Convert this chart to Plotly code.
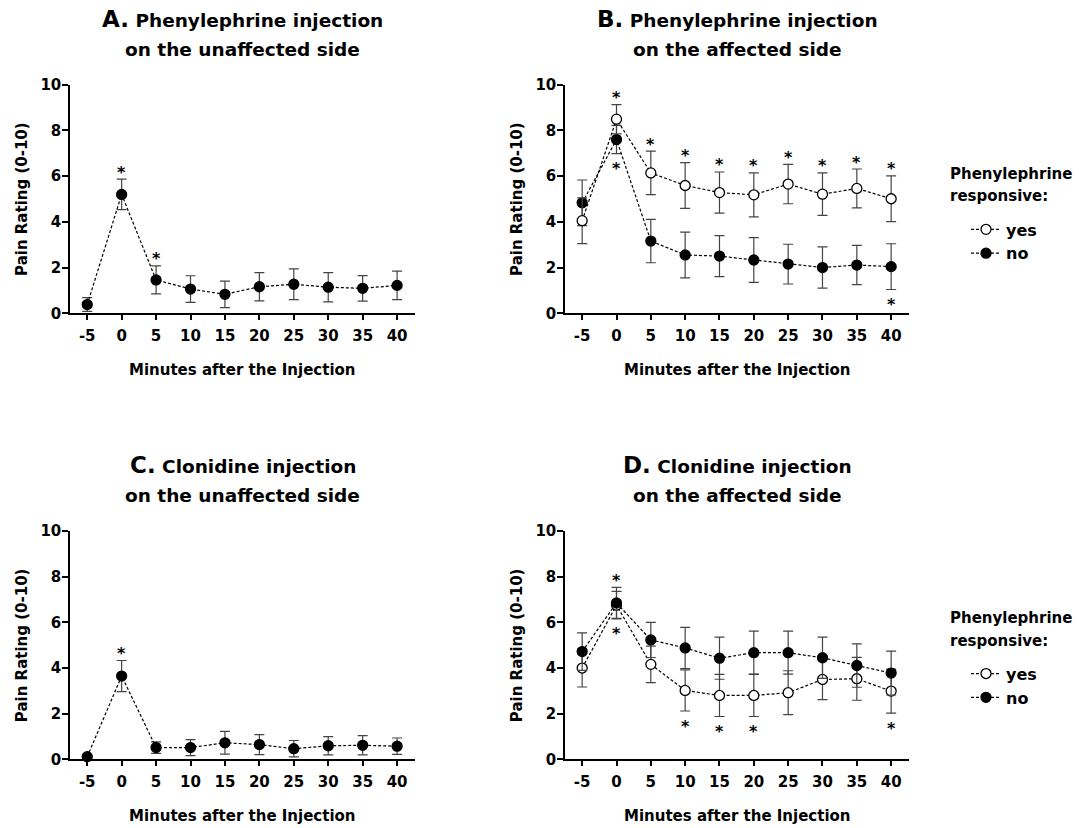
import plotly.graph_objects as go

# ---------------- data ----------------
minutes = [-5, 0, 5, 10, 15, 20, 25, 30, 35, 40]
minute_labels = ["-5", "0", "5", "10", "15", "20", "25", "30", "35", "40"]
rating_ticks = [0, 2, 4, 6, 8, 10]

# A. Phenylephrine, unaffected side
a_mean = [0.38, 5.20, 1.46, 1.06, 0.83, 1.16, 1.27, 1.14, 1.09, 1.22]
a_err = [0.30, 0.67, 0.61, 0.58, 0.58, 0.62, 0.67, 0.64, 0.56, 0.62]
a_sig_up = [0, 5]

# B. Phenylephrine, affected side
b_yes_mean = [4.05, 8.49, 6.14, 5.59, 5.28, 5.18, 5.65, 5.21, 5.46, 5.01]
b_yes_err = [1.00, 0.64, 0.95, 1.00, 0.90, 0.96, 0.86, 0.93, 0.85, 1.00]
b_no_mean = [4.83, 7.60, 3.16, 2.55, 2.50, 2.33, 2.15, 2.00, 2.11, 2.04]
b_no_err = [1.00, 0.62, 0.95, 1.00, 0.90, 0.98, 0.87, 0.90, 0.86, 1.00]
b_yes_sig_up = [0, 5, 10, 15, 20, 25, 30, 35, 40]
b_no_sig_down = [0, 40]

# C. Clonidine, unaffected side
c_mean = [0.12, 3.65, 0.52, 0.52, 0.73, 0.65, 0.47, 0.60, 0.62, 0.58]
c_err = [0.06, 0.68, 0.25, 0.35, 0.50, 0.44, 0.36, 0.40, 0.42, 0.36]
c_sig_up = [0]

# D. Clonidine, affected side
d_no_mean = [4.72, 6.85, 5.23, 4.88, 4.43, 4.67, 4.67, 4.45, 4.11, 3.78]
d_no_err = [0.82, 0.68, 0.77, 0.90, 0.92, 0.94, 0.94, 0.90, 0.95, 0.96]
d_yes_mean = [4.00, 6.75, 4.16, 3.02, 2.80, 2.80, 2.92, 3.50, 3.53, 2.99]
d_yes_err = [0.83, 0.60, 0.80, 0.90, 0.92, 0.92, 0.96, 0.88, 0.94, 0.96]
d_no_sig_up = [0]
d_yes_sig_down = [0, 10, 15, 20, 40]

titles = [
    ("A.", "Phenylephrine injection", "on the unaffected side"),
    ("B.", "Phenylephrine injection", "on the affected side"),
    ("C.", "Clonidine injection", "on the unaffected side"),
    ("D.", "Clonidine injection", "on the affected side"),
]
x_title = "Minutes after the Injection"
y_title = "Pain Rating (0-10)"
legend_title_lines = ["Phenylephrine", "responsive:"]
legend_names = ["yes", "no"]

# ---------------- layout helpers ----------------
W, H = 1079, 828
FONT = "DejaVu Sans"


def px(x):
    return x / W


def vy(y):
    # compensate the vertical offset/scale observed in the page capture
    return (y - 7.2) / 0.98


def py(y):
    return 1 - vy(y) / H


# plot-area pixel boxes (target picture pixels): (left, right, top, bottom)
boxes = {
    1: (70, 415, 83, 312),
    2: (565, 909, 83, 312),
    3: (70, 415, 530, 759),
    4: (565, 909, 530, 759),
}

fig = go.Figure()

line_style = dict(color="black", width=1.2, dash="3px,2px")
err_style = dict(type="data", visible=True, color="#444", thickness=1.2, width=5)


def add_series(k, mean, err, filled, name=None, legend=None, rank=None):
    xa = "x" if k == 1 else f"x{k}"
    ya = "y" if k == 1 else f"y{k}"
    marker = dict(
        size=10,
        color="black" if filled else "white",
        line=dict(color="black", width=1.3),
        symbol="circle",
    )
    fig.add_trace(
        go.Scatter(
            x=minutes,
            y=mean,
            mode="lines+markers",
            line=line_style,
            marker=marker,
            error_y=dict(array=err, **err_style),
            xaxis=xa,
            yaxis=ya,
            name=name if name else "",
            showlegend=legend is not None,
            legend=legend if legend else "legend",
            legendrank=rank if rank else 1000,
            cliponaxis=False,
        )
    )


def add_stars(k, xs, mean, err, up=True):
    xa = "x" if k == 1 else f"x{k}"
    ya = "y" if k == 1 else f"y{k}"
    for xv in xs:
        i = minutes.index(xv)
        yv = mean[i] + err[i] if up else mean[i] - err[i]
        fig.add_annotation(
            x=xv, y=yv, xref=xa, yref=ya, text="*", showarrow=False,
            yshift=7 if up else -15, yanchor="middle",
            font=dict(family=FONT, size=16, color="black", weight="bold"),
        )


# Panel A
add_series(1, a_mean, a_err, True)
add_stars(1, a_sig_up, a_mean, a_err, True)
# Panel B (open circles drawn on top)
add_series(2, b_no_mean, b_no_err, True, legend_names[1], "legend", 2)
add_series(2, b_yes_mean, b_yes_err, False, legend_names[0], "legend", 1)
add_stars(2, b_yes_sig_up, b_yes_mean, b_yes_err, True)
add_stars(2, b_no_sig_down, b_no_mean, b_no_err, False)
# Panel C
add_series(3, c_mean, c_err, True)
add_stars(3, c_sig_up, c_mean, c_err, True)
# Panel D (filled circles drawn on top)
add_series(4, d_yes_mean, d_yes_err, False, legend_names[0], "legend2", 1)
add_series(4, d_no_mean, d_no_err, True, legend_names[1], "legend2", 2)
add_stars(4, d_no_sig_up, d_no_mean, d_no_err, True)
add_stars(4, d_yes_sig_down, d_yes_mean, d_yes_err, False)

tickfont = dict(family=FONT, size=15, color="black", weight="bold")
layout_axes = {}
for k, (l, r, t, b) in boxes.items():
    sfx = "" if k == 1 else str(k)
    layout_axes[f"xaxis{sfx}"] = dict(
        domain=[px(l), px(r)],
        anchor=f"y{sfx}",
        range=[-7.5, 42.6],
        tickmode="array",
        tickvals=minutes,
        ticktext=minute_labels,
        showline=True, linecolor="black", linewidth=1.5,
        ticks="outside", ticklen=5, tickwidth=1.5, tickcolor="black",
        ticklabelstandoff=3,
        showgrid=False, zeroline=False,
        tickfont=tickfont,
    )
    layout_axes[f"yaxis{sfx}"] = dict(
        domain=[py(b), py(t)],
        anchor=f"x{sfx}",
        range=[0, 10],
        tickmode="array",
        tickvals=rating_ticks,
        ticktext=[str(v) for v in rating_ticks],
        showline=True, linecolor="black", linewidth=1.5,
        ticks="outside", ticklen=6, tickwidth=1.5, tickcolor="black",
        ticklabelstandoff=-2,
        showgrid=False, zeroline=False,
        tickfont=tickfont,
    )
    cx = (l + r) / 2
    letter, line1, line2 = titles[k - 1]
    fig.add_annotation(
        xref="paper", yref="paper", x=px(cx), y=py(t - 66), showarrow=False,
        text=f"<span style='font-size:23px'>{letter}</span> {line1}",
        xanchor="center", yanchor="middle",
        font=dict(family=FONT, size=18.5, color="black", weight="bold"),
    )
    fig.add_annotation(
        xref="paper", yref="paper", x=px(cx), y=py(t - 35), showarrow=False,
        text=line2, xanchor="center", yanchor="middle",
        font=dict(family=FONT, size=18.5, color="black", weight="bold"),
    )
    fig.add_annotation(
        xref="paper", yref="paper", x=px(cx), y=py(b + 57), showarrow=False,
        text=x_title, xanchor="center", yanchor="middle",
        font=dict(family=FONT, size=15, color="black", weight="bold"),
    )
    fig.add_annotation(
        xref="paper", yref="paper", x=px(l - 48), y=py((t + b) / 2),
        showarrow=False, text=y_title, textangle=-90,
        xanchor="center", yanchor="middle",
        font=dict(family=FONT, size=15, color="black", weight="bold"),
    )

# legend titles (as annotations, aligned left), one line each
for top in (172, 617):
    for j, txt in enumerate(legend_title_lines):
        fig.add_annotation(
            xref="paper", yref="paper", x=px(948), y=py(top + 23 * j),
            showarrow=False, text=txt, xanchor="left", yanchor="middle",
            font=dict(family=FONT, size=15, color="black", weight="bold"),
        )

legend_common = dict(
    xanchor="left", yanchor="top",
    font=dict(family=FONT, size=16, color="black", weight="bold"),
    bgcolor="rgba(0,0,0,0)", borderwidth=0, itemwidth=30,
    traceorder="normal",
)

fig.update_layout(
    width=W, height=H,
    margin=dict(l=0, r=0, t=0, b=0),
    paper_bgcolor="white", plot_bgcolor="white",
    showlegend=True,
    legend=dict(x=px(966), y=py(211), **legend_common),
    legend2=dict(x=px(966), y=py(656), **legend_common),
    **layout_axes,
)

fig.write_html(
    "out.html",
    config={"displayModeBar": False},
    post_script="document.body.style.margin='0';",
)
